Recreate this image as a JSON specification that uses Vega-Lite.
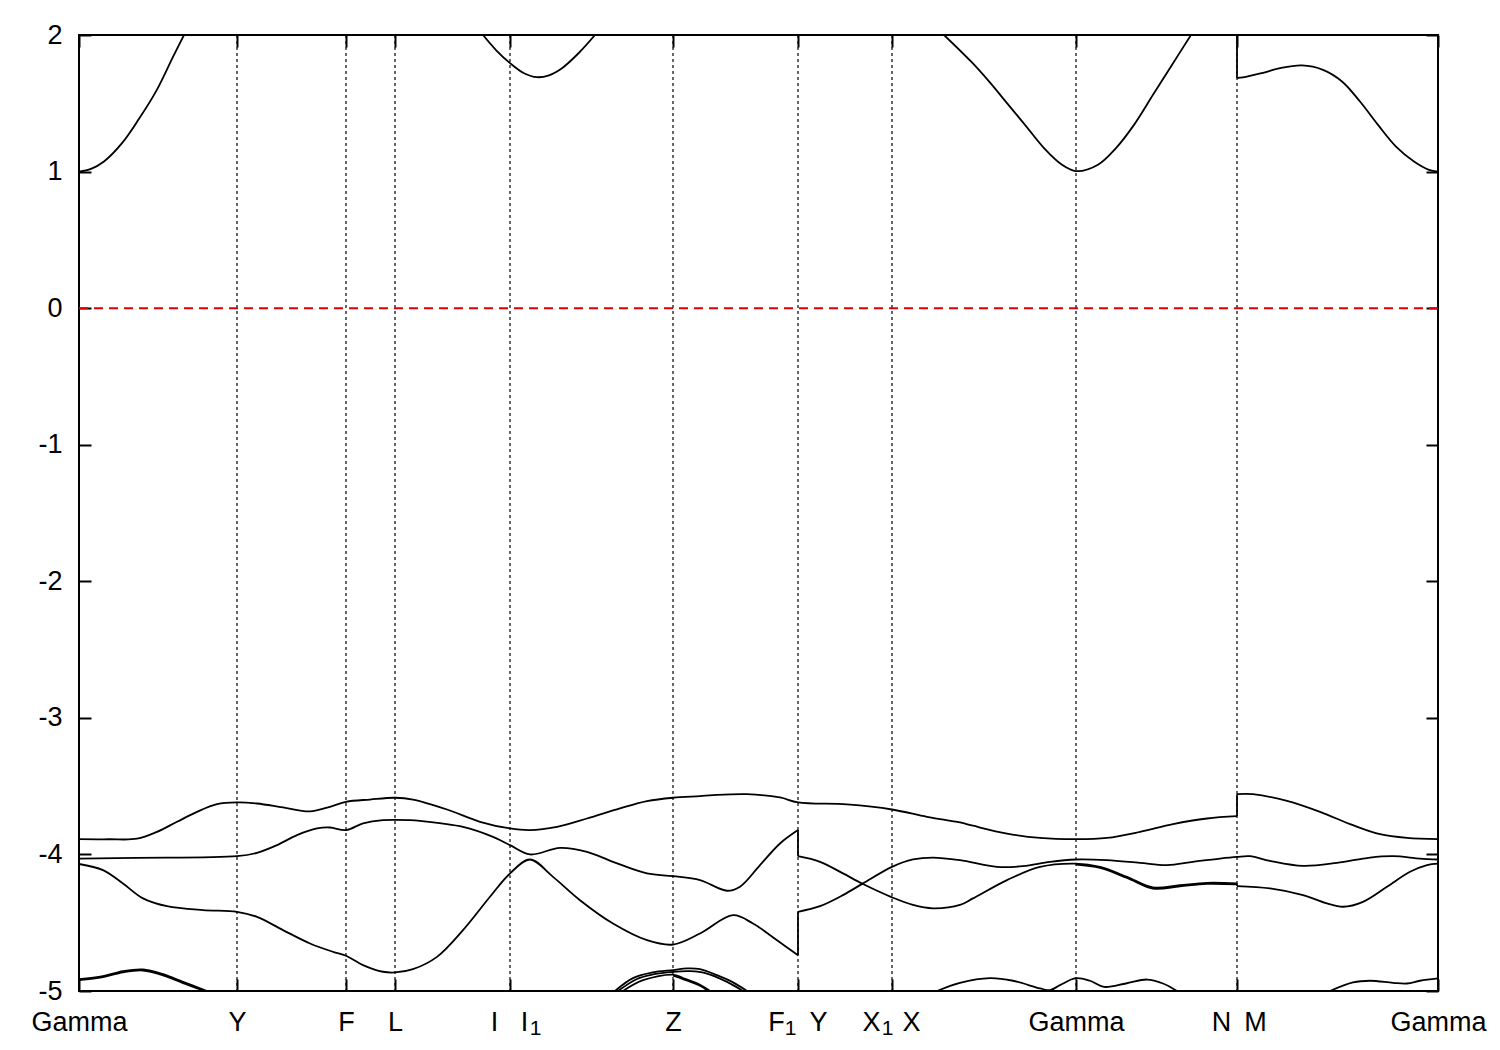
{
  "$schema": "https://vega.github.io/schema/vega-lite/v6.json",
  "width": 1359,
  "height": 956,
  "autosize": {"type": "none"},
  "padding": {"left": 79, "top": 35, "right": 62, "bottom": 59},
  "background": "white",
  "config": {
    "view": {"stroke": "black", "strokeWidth": 2},
    "axis": {"domain": false, "grid": false, "title": null, "labelFont": "Liberation Sans", "labelFontSize": 27, "labelColor": "black", "tickColor": "black", "tickWidth": 2, "tickSize": -12, "labelOverlap": false, "labelBound": false, "labelFlush": false, "zindex": 1}
  },
  "datasets": {
    "vlines": [{"k": 158}, {"k": 267}, {"k": 316}, {"k": 431}, {"k": 594}, {"k": 719}, {"k": 813}, {"k": 997}, {"k": 1158}],
    "jumps": [
      {"k": 719, "E1": -3.822, "E2": -4.013},
      {"k": 719, "E1": -4.738, "E2": -4.42},
      {"k": 1158, "E1": -3.72, "E2": -3.559},
      {"k": 1158, "E1": -4.212, "E2": -4.232},
      {"k": 1158, "E1": 1.685, "E2": 2.0}
    ],
    "bands": [
      {"s": "c1", "k": 0, "E": 1.0}, {"s": "c1", "k": 12, "E": 1.02}, {"s": "c1", "k": 25, "E": 1.074}, {"s": "c1", "k": 43, "E": 1.208}, {"s": "c1", "k": 60, "E": 1.386}, {"s": "c1", "k": 77, "E": 1.587}, {"s": "c1", "k": 94, "E": 1.84}, {"s": "c1", "k": 105, "E": 2.0},
      {"s": "c2", "k": 404, "E": 2.0}, {"s": "c2", "k": 417, "E": 1.89}, {"s": "c2", "k": 431, "E": 1.794}, {"s": "c2", "k": 445, "E": 1.72}, {"s": "c2", "k": 458, "E": 1.691}, {"s": "c2", "k": 470, "E": 1.705}, {"s": "c2", "k": 483, "E": 1.757}, {"s": "c2", "k": 500, "E": 1.87}, {"s": "c2", "k": 516, "E": 2.0},
      {"s": "c3", "k": 865, "E": 2.0}, {"s": "c3", "k": 892, "E": 1.806}, {"s": "c3", "k": 910, "E": 1.66}, {"s": "c3", "k": 928, "E": 1.501}, {"s": "c3", "k": 946, "E": 1.342}, {"s": "c3", "k": 965, "E": 1.172}, {"s": "c3", "k": 983, "E": 1.05}, {"s": "c3", "k": 997, "E": 1.003}, {"s": "c3", "k": 1019, "E": 1.05}, {"s": "c3", "k": 1037, "E": 1.172}, {"s": "c3", "k": 1055, "E": 1.342}, {"s": "c3", "k": 1074, "E": 1.562}, {"s": "c3", "k": 1092, "E": 1.77}, {"s": "c3", "k": 1112, "E": 2.0},
      {"s": "c4", "k": 1158, "E": 1.685}, {"s": "c4", "k": 1164, "E": 1.689}, {"s": "c4", "k": 1183, "E": 1.721}, {"s": "c4", "k": 1201, "E": 1.757}, {"s": "c4", "k": 1223, "E": 1.777}, {"s": "c4", "k": 1244, "E": 1.745}, {"s": "c4", "k": 1263, "E": 1.66}, {"s": "c4", "k": 1281, "E": 1.513}, {"s": "c4", "k": 1299, "E": 1.342}, {"s": "c4", "k": 1317, "E": 1.183}, {"s": "c4", "k": 1335, "E": 1.074}, {"s": "c4", "k": 1350, "E": 1.013}, {"s": "c4", "k": 1359, "E": 1.0},

      {"s": "A1", "k": 0, "E": -3.888}, {"s": "A1", "k": 30, "E": -3.889}, {"s": "A1", "k": 58, "E": -3.885}, {"s": "A1", "k": 78, "E": -3.835}, {"s": "A1", "k": 98, "E": -3.761}, {"s": "A1", "k": 118, "E": -3.688}, {"s": "A1", "k": 138, "E": -3.632}, {"s": "A1", "k": 158, "E": -3.619}, {"s": "A1", "k": 178, "E": -3.627}, {"s": "A1", "k": 204, "E": -3.656}, {"s": "A1", "k": 231, "E": -3.685}, {"s": "A1", "k": 251, "E": -3.651}, {"s": "A1", "k": 267, "E": -3.615}, {"s": "A1", "k": 291, "E": -3.598}, {"s": "A1", "k": 316, "E": -3.585}, {"s": "A1", "k": 334, "E": -3.598}, {"s": "A1", "k": 368, "E": -3.671}, {"s": "A1", "k": 401, "E": -3.761}, {"s": "A1", "k": 431, "E": -3.81}, {"s": "A1", "k": 451, "E": -3.822}, {"s": "A1", "k": 478, "E": -3.798}, {"s": "A1", "k": 508, "E": -3.737}, {"s": "A1", "k": 541, "E": -3.663}, {"s": "A1", "k": 568, "E": -3.61}, {"s": "A1", "k": 594, "E": -3.585}, {"s": "A1", "k": 621, "E": -3.573}, {"s": "A1", "k": 634, "E": -3.566}, {"s": "A1", "k": 668, "E": -3.559}, {"s": "A1", "k": 701, "E": -3.583}, {"s": "A1", "k": 719, "E": -3.619}, {"s": "A1", "k": 768, "E": -3.634}, {"s": "A1", "k": 813, "E": -3.671}, {"s": "A1", "k": 848, "E": -3.725}, {"s": "A1", "k": 881, "E": -3.766}, {"s": "A1", "k": 894, "E": -3.79}, {"s": "A1", "k": 928, "E": -3.847}, {"s": "A1", "k": 961, "E": -3.879}, {"s": "A1", "k": 997, "E": -3.888}, {"s": "A1", "k": 1028, "E": -3.879}, {"s": "A1", "k": 1061, "E": -3.835}, {"s": "A1", "k": 1094, "E": -3.778}, {"s": "A1", "k": 1128, "E": -3.737}, {"s": "A1", "k": 1158, "E": -3.72},
      {"s": "A2", "k": 1158, "E": -3.559}, {"s": "A2", "k": 1174, "E": -3.559}, {"s": "A2", "k": 1208, "E": -3.608}, {"s": "A2", "k": 1241, "E": -3.688}, {"s": "A2", "k": 1274, "E": -3.786}, {"s": "A2", "k": 1301, "E": -3.852}, {"s": "A2", "k": 1328, "E": -3.879}, {"s": "A2", "k": 1359, "E": -3.888},

      {"s": "B1", "k": 0, "E": -4.03}, {"s": "B1", "k": 58, "E": -4.025}, {"s": "B1", "k": 158, "E": -4.013}, {"s": "B1", "k": 178, "E": -3.988}, {"s": "B1", "k": 198, "E": -3.932}, {"s": "B1", "k": 218, "E": -3.859}, {"s": "B1", "k": 238, "E": -3.81}, {"s": "B1", "k": 251, "E": -3.803}, {"s": "B1", "k": 267, "E": -3.822}, {"s": "B1", "k": 284, "E": -3.773}, {"s": "B1", "k": 304, "E": -3.749}, {"s": "B1", "k": 331, "E": -3.749}, {"s": "B1", "k": 341, "E": -3.754}, {"s": "B1", "k": 384, "E": -3.798}, {"s": "B1", "k": 414, "E": -3.871}, {"s": "B1", "k": 431, "E": -3.932}, {"s": "B1", "k": 451, "E": -4.0}, {"s": "B1", "k": 481, "E": -3.952}, {"s": "B1", "k": 508, "E": -3.981}, {"s": "B1", "k": 534, "E": -4.054}, {"s": "B1", "k": 568, "E": -4.139}, {"s": "B1", "k": 594, "E": -4.159}, {"s": "B1", "k": 621, "E": -4.188}, {"s": "B1", "k": 648, "E": -4.266}, {"s": "B1", "k": 661, "E": -4.236}, {"s": "B1", "k": 681, "E": -4.078}, {"s": "B1", "k": 701, "E": -3.92}, {"s": "B1", "k": 719, "E": -3.822},
      {"s": "B2", "k": 719, "E": -4.013}, {"s": "B2", "k": 741, "E": -4.054}, {"s": "B2", "k": 764, "E": -4.139}, {"s": "B2", "k": 784, "E": -4.217}, {"s": "B2", "k": 813, "E": -4.314}, {"s": "B2", "k": 834, "E": -4.37}, {"s": "B2", "k": 854, "E": -4.395}, {"s": "B2", "k": 881, "E": -4.37}, {"s": "B2", "k": 894, "E": -4.322}, {"s": "B2", "k": 928, "E": -4.188}, {"s": "B2", "k": 961, "E": -4.091}, {"s": "B2", "k": 997, "E": -4.067}, {"s": "B2", "k": 1021, "E": -4.091}, {"s": "B2", "k": 1048, "E": -4.164}, {"s": "B2", "k": 1074, "E": -4.242}, {"s": "B2", "k": 1101, "E": -4.225}, {"s": "B2", "k": 1128, "E": -4.208}, {"s": "B2", "k": 1158, "E": -4.212},
      {"s": "B2b", "k": 997, "E": -4.075}, {"s": "B2b", "k": 1021, "E": -4.099}, {"s": "B2b", "k": 1048, "E": -4.172}, {"s": "B2b", "k": 1074, "E": -4.25}, {"s": "B2b", "k": 1101, "E": -4.233}, {"s": "B2b", "k": 1128, "E": -4.216}, {"s": "B2b", "k": 1158, "E": -4.22},
      {"s": "B3", "k": 1158, "E": -4.232}, {"s": "B3", "k": 1191, "E": -4.249}, {"s": "B3", "k": 1224, "E": -4.298}, {"s": "B3", "k": 1248, "E": -4.359}, {"s": "B3", "k": 1264, "E": -4.383}, {"s": "B3", "k": 1284, "E": -4.347}, {"s": "B3", "k": 1308, "E": -4.237}, {"s": "B3", "k": 1331, "E": -4.127}, {"s": "B3", "k": 1348, "E": -4.078}, {"s": "B3", "k": 1359, "E": -4.067},

      {"s": "C1", "k": 0, "E": -4.07}, {"s": "C1", "k": 24, "E": -4.115}, {"s": "C1", "k": 44, "E": -4.213}, {"s": "C1", "k": 64, "E": -4.322}, {"s": "C1", "k": 88, "E": -4.379}, {"s": "C1", "k": 124, "E": -4.408}, {"s": "C1", "k": 158, "E": -4.42}, {"s": "C1", "k": 178, "E": -4.457}, {"s": "C1", "k": 204, "E": -4.554}, {"s": "C1", "k": 231, "E": -4.652}, {"s": "C1", "k": 254, "E": -4.713}, {"s": "C1", "k": 267, "E": -4.742}, {"s": "C1", "k": 284, "E": -4.81}, {"s": "C1", "k": 304, "E": -4.859}, {"s": "C1", "k": 316, "E": -4.864}, {"s": "C1", "k": 334, "E": -4.84}, {"s": "C1", "k": 358, "E": -4.75}, {"s": "C1", "k": 384, "E": -4.554}, {"s": "C1", "k": 411, "E": -4.31}, {"s": "C1", "k": 431, "E": -4.139}, {"s": "C1", "k": 451, "E": -4.037}, {"s": "C1", "k": 474, "E": -4.164}, {"s": "C1", "k": 501, "E": -4.335}, {"s": "C1", "k": 534, "E": -4.506}, {"s": "C1", "k": 568, "E": -4.628}, {"s": "C1", "k": 594, "E": -4.66}, {"s": "C1", "k": 621, "E": -4.579}, {"s": "C1", "k": 654, "E": -4.445}, {"s": "C1", "k": 674, "E": -4.506}, {"s": "C1", "k": 698, "E": -4.628}, {"s": "C1", "k": 719, "E": -4.738},
      {"s": "C2", "k": 719, "E": -4.42}, {"s": "C2", "k": 741, "E": -4.379}, {"s": "C2", "k": 764, "E": -4.298}, {"s": "C2", "k": 784, "E": -4.212}, {"s": "C2", "k": 813, "E": -4.091}, {"s": "C2", "k": 834, "E": -4.037}, {"s": "C2", "k": 854, "E": -4.023}, {"s": "C2", "k": 881, "E": -4.042}, {"s": "C2", "k": 918, "E": -4.091}, {"s": "C2", "k": 944, "E": -4.086}, {"s": "C2", "k": 971, "E": -4.054}, {"s": "C2", "k": 997, "E": -4.037}, {"s": "C2", "k": 1028, "E": -4.042}, {"s": "C2", "k": 1061, "E": -4.062}, {"s": "C2", "k": 1088, "E": -4.078}, {"s": "C2", "k": 1114, "E": -4.054}, {"s": "C2", "k": 1141, "E": -4.03}, {"s": "C2", "k": 1158, "E": -4.018}, {"s": "C2", "k": 1171, "E": -4.013}, {"s": "C2", "k": 1191, "E": -4.047}, {"s": "C2", "k": 1224, "E": -4.084}, {"s": "C2", "k": 1258, "E": -4.062}, {"s": "C2", "k": 1291, "E": -4.023}, {"s": "C2", "k": 1314, "E": -4.013}, {"s": "C2", "k": 1341, "E": -4.03}, {"s": "C2", "k": 1359, "E": -4.037},

      {"s": "D1", "k": 0, "E": -4.913}, {"s": "D1", "k": 24, "E": -4.891}, {"s": "D1", "k": 44, "E": -4.855}, {"s": "D1", "k": 64, "E": -4.842}, {"s": "D1", "k": 84, "E": -4.877}, {"s": "D1", "k": 104, "E": -4.933}, {"s": "D1", "k": 128, "E": -5.0},
      {"s": "D1b", "k": 0, "E": -4.92}, {"s": "D1b", "k": 24, "E": -4.898}, {"s": "D1b", "k": 44, "E": -4.863}, {"s": "D1b", "k": 64, "E": -4.85}, {"s": "D1b", "k": 84, "E": -4.885}, {"s": "D1b", "k": 104, "E": -4.942}, {"s": "D1b", "k": 126, "E": -5.0},
      {"s": "Z1", "k": 536, "E": -5.0}, {"s": "Z1", "k": 554, "E": -4.906}, {"s": "Z1", "k": 574, "E": -4.864}, {"s": "Z1", "k": 594, "E": -4.847}, {"s": "Z1", "k": 608, "E": -4.835}, {"s": "Z1", "k": 621, "E": -4.84}, {"s": "Z1", "k": 638, "E": -4.884}, {"s": "Z1", "k": 654, "E": -4.937}, {"s": "Z1", "k": 668, "E": -5.0},
      {"s": "Z2", "k": 539, "E": -5.0}, {"s": "Z2", "k": 558, "E": -4.912}, {"s": "Z2", "k": 574, "E": -4.879}, {"s": "Z2", "k": 594, "E": -4.86}, {"s": "Z2", "k": 611, "E": -4.855}, {"s": "Z2", "k": 628, "E": -4.872}, {"s": "Z2", "k": 648, "E": -4.933}, {"s": "Z2", "k": 664, "E": -5.0},
      {"s": "Z3", "k": 544, "E": -5.0}, {"s": "Z3", "k": 564, "E": -4.921}, {"s": "Z3", "k": 594, "E": -4.88}, {"s": "Z3", "k": 604, "E": -4.905}, {"s": "Z3", "k": 621, "E": -4.954}, {"s": "Z3", "k": 631, "E": -5.0},
      {"s": "Z3b", "k": 594, "E": -4.888}, {"s": "Z3b", "k": 604, "E": -4.913}, {"s": "Z3b", "k": 621, "E": -4.962}, {"s": "Z3b", "k": 629, "E": -5.0},
      {"s": "D2", "k": 858, "E": -5.0}, {"s": "D2", "k": 881, "E": -4.94}, {"s": "D2", "k": 911, "E": -4.906}, {"s": "D2", "k": 934, "E": -4.925}, {"s": "D2", "k": 961, "E": -4.981}, {"s": "D2", "k": 971, "E": -4.994}, {"s": "D2", "k": 981, "E": -4.957}, {"s": "D2", "k": 997, "E": -4.906}, {"s": "D2", "k": 1011, "E": -4.925}, {"s": "D2", "k": 1025, "E": -4.97}, {"s": "D2", "k": 1047, "E": -4.945}, {"s": "D2", "k": 1068, "E": -4.916}, {"s": "D2", "k": 1084, "E": -4.945}, {"s": "D2", "k": 1098, "E": -5.0},
      {"s": "D3", "k": 1251, "E": -5.0}, {"s": "D3", "k": 1274, "E": -4.937}, {"s": "D3", "k": 1291, "E": -4.925}, {"s": "D3", "k": 1314, "E": -4.94}, {"s": "D3", "k": 1328, "E": -4.945}, {"s": "D3", "k": 1341, "E": -4.925}, {"s": "D3", "k": 1359, "E": -4.908}
    ]
  },
  "layer": [
    {
      "data": {"name": "vlines"},
      "mark": {"type": "rule", "color": "black", "strokeWidth": 1.2, "strokeDash": [3, 3]},
      "encoding": {
        "x": {
          "field": "k", "type": "quantitative",
          "scale": {"domain": [0, 1359], "nice": false, "zero": false},
          "axis": {
            "orient": "bottom",
            "values": [0, 158, 267, 316, 415, 431, 445, 456, 594, 697, 711, 719, 739, 792, 808, 813, 832, 997, 1142, 1158, 1176, 1359],
            "labelExpr": "datum.value == 0 ? 'Gamma' : datum.value == 158 ? 'Y' : datum.value == 267 ? 'F' : datum.value == 316 ? 'L' : datum.value == 415 ? 'I' : datum.value == 445 ? 'I' : datum.value == 456 ? '1' : datum.value == 594 ? 'Z' : datum.value == 697 ? 'F' : datum.value == 711 ? '1' : datum.value == 739 ? 'Y' : datum.value == 792 ? 'X' : datum.value == 808 ? '1' : datum.value == 832 ? 'X' : datum.value == 997 ? 'Gamma' : datum.value == 1142 ? 'N' : datum.value == 1176 ? 'M' : datum.value == 1359 ? 'Gamma' : ''",
            "tickOpacity": {"condition": {"test": "indexof([0,158,267,316,431,594,719,813,997,1158,1359], datum.value) >= 0", "value": 1}, "value": 0},
            "labelFontSize": {"condition": {"test": "indexof([456,711,808], datum.value) >= 0", "value": 21}, "value": 27},
            "labelPadding": {"condition": {"test": "indexof([456,711,808], datum.value) >= 0", "value": 38}, "value": 30}
          }
        }
      }
    },
    {
      "data": {"values": [{"E": 0}]},
      "mark": {"type": "rule", "color": "#e00000", "strokeWidth": 2, "strokeDash": [9, 6]},
      "encoding": {
        "y": {"field": "E", "type": "quantitative", "axis": {"orient": "right", "values": [-5, -4, -3, -2, -1, 0, 1, 2], "labels": false}}
      }
    },
    {
      "data": {"name": "bands"},
      "mark": {"type": "line", "interpolate": "catmull-rom", "clip": true, "color": "black", "strokeWidth": 1.8},
      "encoding": {
        "x": {"field": "k", "type": "quantitative", "axis": {"orient": "top", "values": [0, 158, 267, 316, 431, 594, 719, 813, 997, 1158, 1359], "labels": false}},
        "y": {"field": "E", "type": "quantitative", "scale": {"domain": [-5, 2], "nice": false, "zero": false}, "axis": {"orient": "left", "values": [-5, -4, -3, -2, -1, 0, 1, 2], "labelExpr": "'' + datum.value", "labelPadding": 29}},
        "detail": {"field": "s", "type": "nominal"},
        "order": {"field": "k", "type": "quantitative"}
      }
    },
    {
      "data": {"name": "jumps"},
      "mark": {"type": "rule", "color": "black", "strokeWidth": 1.8, "clip": true},
      "encoding": {
        "x": {"field": "k", "type": "quantitative", "axis": null},
        "y": {"field": "E1", "type": "quantitative", "axis": null},
        "y2": {"field": "E2"}
      }
    }
  ],
  "resolve": {"axis": {"x": "independent", "y": "independent"}}
}
